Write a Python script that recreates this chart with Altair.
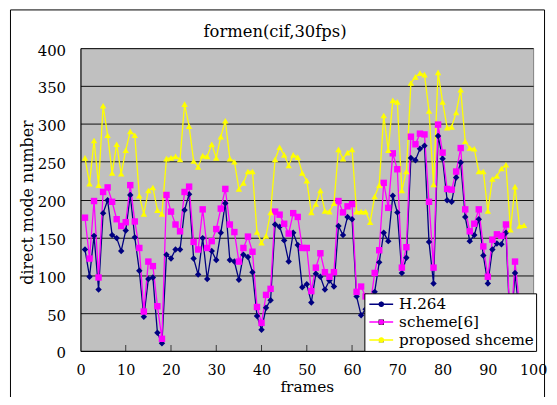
import altair as alt
import pandas as pd

frames = list(range(1, 99))
h264 = [134, 98, 152, 81, 182, 199, 153, 149, 132, 159,
        206, 150, 106, 45, 95, 97, 24, 10, 127, 122,
        134, 134, 186, 207, 122, 101, 149, 95, 132, 120,
        156, 195, 120, 118, 94, 127, 124, 104, 46, 28,
        57, 67, 167, 164, 146, 118, 156, 140, 84, 88,
        64, 102, 98, 81, 93, 85, 165, 153, 177, 174,
        72, 47, 55, 50, 78, 117, 156, 145, 205, 183,
        103, 123, 255, 252, 267, 271, 144, 89, 284, 254,
        199, 197, 229, 249, 177, 145, 153, 174, 126, 89,
        134, 142, 141, 156, 20, 103, 45, 55]
scheme6 = [176, 122, 198, 97, 210, 216, 197, 174, 165, 170,
           219, 171, 136, 52, 118, 112, 59, 16, 206, 184,
           167, 158, 210, 217, 144, 134, 187, 136, 145, 161,
           188, 214, 167, 157, 118, 136, 151, 131, 58, 37,
           74, 82, 184, 180, 168, 155, 182, 177, 136, 136,
           79, 110, 129, 104, 98, 104, 198, 183, 191, 194,
           78, 85, 72, 60, 103, 133, 222, 189, 261, 240,
           110, 137, 283, 273, 287, 286, 197, 110, 299, 262,
           214, 213, 237, 268, 187, 158, 168, 187, 138, 98,
           147, 154, 152, 167, 25, 118, 60, 62]
proposed = [255, 221, 278, 219, 324, 285, 235, 273, 234, 265,
            290, 285, 205, 181, 212, 216, 186, 181, 254, 255,
            257, 253, 326, 297, 251, 243, 258, 257, 273, 255,
            283, 304, 254, 250, 214, 222, 237, 237, 157, 143,
            152, 183, 253, 269, 259, 245, 259, 256, 235, 225,
            183, 194, 212, 185, 184, 195, 266, 254, 262, 266,
            184, 184, 184, 170, 204, 219, 311, 265, 331, 329,
            212, 237, 354, 362, 367, 365, 317, 220, 368, 329,
            295, 296, 315, 345, 277, 268, 267, 237, 237, 185,
            227, 231, 241, 246, 160, 217, 165, 166]

series_names = ["H.264", "scheme[6]", "proposed shceme"]
series_colors = ["#000080", "#FF00FF", "#FFFF00"]
series_shapes = ["diamond", "square", "triangle-up"]
x_ticks = [0, 10, 20, 30, 40, 50, 60, 70, 80, 90, 100]
y_ticks = [0, 50, 100, 150, 200, 250, 300, 350, 400]
chart_title = "formen(cif,30fps)"
x_title = "frames"
y_title = "direct mode number"

rows = []
for name, vals in zip(series_names, [h264, scheme6, proposed]):
    for f, v in zip(frames, vals):
        rows.append({"frame": f, "value": v, "series": name, "series_b": name})
df = pd.DataFrame(rows)

W, H = 456, 305
FONT = "DejaVu Serif"

x_scale = alt.Scale(domain=[0, 100], nice=False, zero=False)
y_scale = alt.Scale(domain=[0, 400], nice=False)


def x_axis():
    return alt.Axis(values=x_ticks, title=x_title, grid=False, ticks=False, tickSize=0,
                    labelPadding=20, labelBaseline="middle", labelFlush=False,
                    labelOverlap=False, labelFontSize=14.5, titleY=41,
                    titleBaseline="alphabetic", titleFontSize=15.5,
                    domainColor="black")


def y_axis():
    return alt.Axis(values=y_ticks, title=y_title, grid=True, gridColor="#111111",
                    gridWidth=1, ticks=False, tickSize=0, labelPadding=15,
                    labelBaseline="middle", labelOffset=2, labelFlush=False,
                    titleX=-53, titleY=155, titleAngle=270, titleBaseline="middle",
                    titleAlign="center", domainColor="black")


legend_a = alt.Legend(title=None, orient="none", legendX=286, legendY=247,
                      direction="vertical", symbolType="stroke", symbolSize=576,
                      symbolStrokeWidth=1.5, symbolOffset=2, labelOffset=5,
                      labelFont=FONT, labelFontSize=15.3, labelColor="black",
                      clipHeight=18, rowPadding=0, padding=2, fillColor="white",
                      strokeColor="black", labelLimit=300)
legend_b = alt.Legend(title=None, orient="none", legendX=286, legendY=247,
                      direction="vertical", symbolSize=30, symbolStrokeWidth=0,
                      symbolOffset=7.4, labelOffset=5, labelFont=FONT,
                      labelFontSize=15.3, labelExpr="''", clipHeight=18,
                      rowPadding=0, padding=2, labelLimit=300)

frame_rect = alt.Chart(pd.DataFrame({"k": [0]})).mark_rect(
    fillOpacity=0, stroke="black", strokeWidth=1
).encode(x=alt.value(-70.5), x2=alt.value(467.5), y=alt.value(-38.5), y2=alt.value(H + 80))

lines = alt.Chart(df).mark_line(strokeWidth=1.3).encode(
    x=alt.X("frame:Q", scale=x_scale, axis=x_axis()),
    y=alt.Y("value:Q", scale=y_scale, axis=y_axis()),
    stroke=alt.Stroke("series:N", scale=alt.Scale(domain=series_names, range=series_colors),
                      legend=legend_a),
)

points = alt.Chart(df).mark_point(filled=True, size=42, opacity=1).encode(
    x=alt.X("frame:Q", scale=x_scale, axis=x_axis()),
    y=alt.Y("value:Q", scale=y_scale, axis=y_axis()),
    fill=alt.Fill("series_b:N", sort=series_names, scale=alt.Scale(range=series_colors),
                  legend=legend_b),
    shape=alt.Shape("series_b:N", sort=series_names, scale=alt.Scale(range=series_shapes),
                    legend=legend_b),
)

ticks = alt.Chart(pd.DataFrame({"frame": x_ticks[1:-1]})).mark_tick(
    color="black", thickness=1, size=6, orient="vertical"
).encode(x=alt.X("frame:Q", scale=x_scale, axis=x_axis()), y=alt.value(H - 3))

title_txt = alt.Chart(pd.DataFrame({"t": [chart_title]})).mark_text(
    font=FONT, fontSize=16.5, align="center", baseline="alphabetic", color="black"
).encode(text="t:N", x=alt.value(196), y=alt.value(-11))

chart = alt.layer(frame_rect, lines, points, ticks, title_txt).properties(
    width=W, height=H,
    autosize=alt.AutoSizeParams(type="none"),
    padding={"left": 73, "top": 39, "right": 16, "bottom": 45},
    background="white",
).configure_view(
    stroke="#808080", strokeWidth=1, fill="#C0C0C0"
).configure_axis(
    labelFont=FONT, labelFontSize=15, labelColor="black",
    titleFont=FONT, titleFontSize=16, titleColor="black", titleFontWeight="normal",
    domainColor="black", domainWidth=1,
)

chart.save("out.html", embed_options={"renderer": "svg", "actions": False})
